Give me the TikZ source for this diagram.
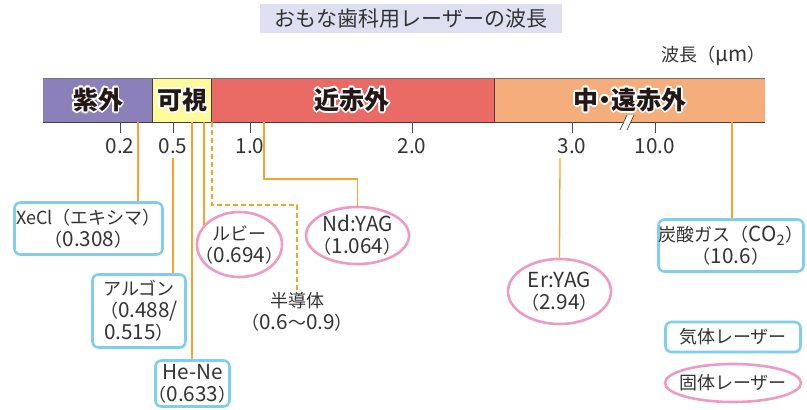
\documentclass[tikz,border=0pt]{standalone}
\usepackage{fontspec}
\setmainfont{Noto Sans CJK JP}
\newfontfamily\latf{Noto Sans CJK JP}[Scale=1.15]
\newcommand\latx[1]{{\latf #1}}
\usetikzlibrary{shapes.geometric,calc}
\definecolor{txt}{HTML}{333333}
\definecolor{dark}{HTML}{231815}
\definecolor{uvc}{HTML}{8C80BB}
\definecolor{visc}{HTML}{FFFA9C}
\definecolor{nirc}{HTML}{EA6B66}
\definecolor{firc}{HTML}{F5AE7B}
\definecolor{orl}{HTML}{F5A52A}
\definecolor{gasc}{HTML}{7FCDEF}
\definecolor{solc}{HTML}{EF9AC3}
\definecolor{titbg}{HTML}{DEE0F1}
\newcommand\barhalo[3]{%
  \foreach \a in {0,30,...,330}{\node[barlbl,text=white] at ($(#1)+(\a:1.7)$) {#3};}
  \node[barlbl,text=dark] (#2) at (#1) {#3};}
\begin{document}
\begin{tikzpicture}[x=1pt,y=-1pt,
  lbl/.style={text=txt,font=\fontsize{18}{22}\selectfont,align=center,inner sep=0},
  gasbox/.style={draw=gasc,line width=2.6pt,rounded corners=6pt,fill=white,inner sep=0},
  solidell/.style={ellipse,draw=solc,line width=2.6pt,fill=white,inner sep=0},
  wire/.style={draw=orl,line width=1.3pt},
  tickmark/.style={draw=black!70,line width=0.8pt},
  barseg/.style={rectangle,inner sep=0,minimum height=43},
  barlbl/.style={font=\fontsize{25}{25}\selectfont\bfseries,inner sep=0}]
\useasboundingbox (0,0) rectangle (807,410);
\fill[white] (0,0) rectangle (807,410);

% title
\node[fill=titbg,minimum width=302,minimum height=29,inner sep=0,text=txt,
  font=\fontsize{21}{21}\selectfont] (title) at (411,18.5) {おもな歯科用レーザーの波長};
\node[lbl,anchor=east] (unit) at (766,56) {波長（\latx{μm}）};

% bar segments
\node[barseg,fill=uvc,minimum width=109] (uv) at (97.5,100.5) {};
\node[barseg,fill=visc,minimum width=59] (vis) at (181.5,100.5) {};
\node[barseg,fill=nirc,minimum width=283] (nir) at (352.5,100.5) {};
\node[barseg,fill=firc,minimum width=271] (fir) at (629.5,100.5) {};
\draw[black!55,line width=0.8pt] (uv.north west) -- (fir.north east);
\draw[black!75,line width=0.8pt] (uv.south west) -- (fir.south east);
\draw[black!75,line width=0.6pt] (uv.north east) -- (uv.south east);
\draw[black!75,line width=0.6pt] (vis.north east) -- (vis.south east);
\draw[black!75,line width=0.6pt] (nir.north east) -- (nir.south east);

\barhalo{98,100}{tuv}{紫外}
\barhalo{182,100}{tvis}{可視}
\barhalo{352,100}{tnir}{近赤外}
\barhalo{630,100}{tfir}{中\hspace{-6pt}・\hspace{-6pt}遠赤外}

% ticks and labels
\foreach \x/\v in {120/0.2,173/0.5,250/1.0,412/2.0,572/3.0,655/10.0}{
  \draw[tickmark] (\x,122) -- (\x,133);
  \node[lbl] at (\x,146) {\latx{\v}};
}
% break mark
\fill[white] (620,130) -- (627,115) -- (634,115) -- (627,130) -- cycle;
\draw[black!75,line width=0.7pt] (620,130) -- (627,115) (627,130) -- (634,115);

% wire start points
\coordinate (b138) at (138,122);
\coordinate (a173) at (173,158);
\coordinate (b192) at (192,122);
\coordinate (b204) at (204,122);
\coordinate (b212) at (212,122);
\coordinate (b264) at (264,122);
\coordinate (e560) at (560,158);
\coordinate (b732) at (732,122);

% gas laser boxes
\node[gasbox,minimum width=148,minimum height=52] (xecl) at (88.5,228.5) {};
\node[lbl] at (xecl) {XeCl（エキシマ）\\（\latx{0.308}）};
\node[gasbox,minimum width=93,minimum height=73] (argon) at (139,311) {};
\node[lbl] at (argon) {アルゴン\\（\latx{0.488/}\\\latx{0.515}）};
\node[gasbox,minimum width=74,minimum height=46] (hene) at (192.5,383.5) {};
\node[lbl] at (hene) {\latx{He-Ne}\\（\latx{0.633}）};
\node[gasbox,minimum width=145,minimum height=52] (co2) at (731,245.5) {};
\node[lbl] at (co2) {炭酸ガス（\latx{CO\textsubscript{2}}）\\（\latx{10.6}）};
\node[gasbox,minimum width=135,minimum height=30] (leggas) at (733,337) {};
\node[lbl] at (leggas) {気体レーザー};

% solid laser ellipses
\node[solidell,minimum width=85,minimum height=65] (ruby) at (239.5,244.5) {};
\node[lbl] at (ruby) {ルビー\\（\latx{0.694}）};
\node[solidell,minimum width=103,minimum height=57] (nd) at (357.5,235.5) {};
\node[lbl] at (nd) {\latx{Nd:YAG}\\（\latx{1.064}）};
\node[solidell,minimum width=103,minimum height=65] (er) at (559.5,291.5) {};
\node[lbl] at (er) {\latx{Er:YAG}\\（\latx{2.94}）};
\node[solidell,minimum width=136,minimum height=38] (legsol) at (733,383) {};
\node[lbl] at (legsol) {固体レーザー};

% semiconductor label
\node[lbl] (semi) at (297,312) {半導体\\（\latx{0.6}〜\latx{0.9}）};

% connectors
\draw[wire] (b138) -- (xecl.north -| b138);
\draw[wire] (a173) -- (argon.north -| a173);
\draw[wire] (b192) -- (hene.north -| b192);
\draw[wire] (b204) -- (b204 |- ruby.151);
\draw[wire,dash pattern=on 5pt off 3pt] (b212) -- ++(0,83) -| ($(semi.north)+(0,-2)$);
\draw[wire] (b264) -- ++(0,57) -| (nd.north);
\draw[wire] (e560) -- (er.north);
\draw[wire] (b732) -- (co2.north -| b732);
\end{tikzpicture}
\end{document}
